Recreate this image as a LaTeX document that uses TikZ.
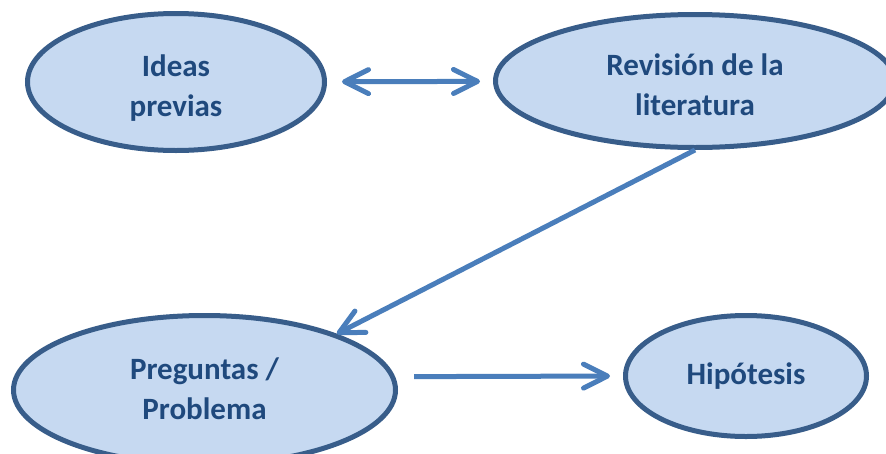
\documentclass[tikz,border=0pt]{standalone}
\usepackage{fontspec}
\setmainfont{Carlito}
\usetikzlibrary{shapes.geometric,arrows.meta}
\definecolor{efill}{HTML}{C6D9F1}
\definecolor{edraw}{HTML}{385D8A}
\definecolor{etext}{HTML}{1F497D}
\definecolor{arr}{HTML}{4A7EBB}
\newcommand{\lowtext}[2]{\raisebox{-#1}[\height][\depth]{\begin{tabular}{@{}c@{}}#2\end{tabular}}}
\tikzset{
  oval/.style={ellipse, draw=edraw, fill=efill, line width=5pt, inner sep=0pt,
    text=etext, font=\fontsize{31}{40}\selectfont\bfseries, align=center},
  conn/.style={draw=arr, line width=5pt,
    -{Straight Barb[length=24pt,width=24pt,line cap=round,line join=round]}},
  conn2/.style={draw=arr, line width=5pt,
    {Straight Barb[length=24pt,width=24pt,line cap=round,line join=round]}-{Straight Barb[length=24pt,width=24pt,line cap=round,line join=round]}}
}
\begin{document}
\begin{tikzpicture}[x=1pt,y=-1pt]
\useasboundingbox (0,0) rectangle (886,453);
\clip (0,0) rectangle (886,453);
\node[oval, minimum width=297pt, minimum height=137pt] (a) at (176,82) {\lowtext{6pt}{Ideas\\previas}};
\node[oval, minimum width=399pt, minimum height=133pt] (b) at (695,81) {\lowtext{6pt}{Revisión de la\\literatura}};
\node[oval, minimum width=382pt, minimum height=149pt] (c) at (204.5,390) {\lowtext{1pt}{Preguntas /\\Problema}};
\node[oval, minimum width=241pt, minimum height=121pt] (d) at (746,376) {Hipótesis};
\draw[conn2, shorten <=15pt, shorten >=13pt] (a) -- (b);
\draw[conn] (b.south) -- (c.23);
\draw[conn, shorten <=19pt, shorten >=13pt] (c.4) -- (d.west);
\end{tikzpicture}
\end{document}
